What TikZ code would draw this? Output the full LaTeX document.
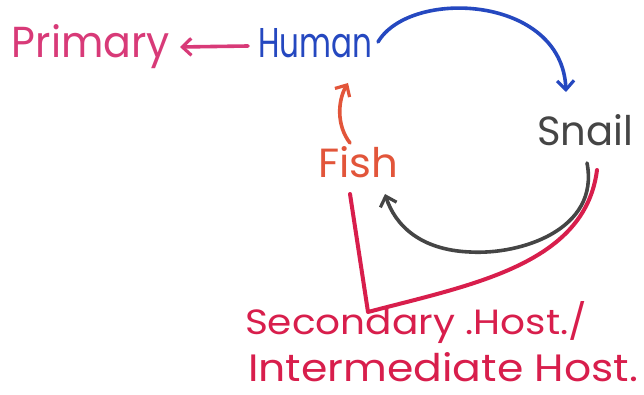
\documentclass[tikz,border=0pt]{standalone}
\usepackage{fontspec}
\setmainfont{Poppins}
\usetikzlibrary{arrows.meta}
\definecolor{cpink}{HTML}{D83A78}
\definecolor{cblue}{HTML}{2548C0}
\definecolor{cgray}{HTML}{454545}
\definecolor{corange}{HTML}{E2553A}
\definecolor{ccrim}{HTML}{D81E4C}
\newcommand{\hwtext}[3]{\resizebox{#1}{#2}{#3}}
\tikzset{
  lbl/.style={anchor=base west, inner sep=0pt, outer sep=0pt},
  pen/.style={line width=3.6pt, line cap=round, line join=round},
  tip/.style={-{Straight Barb[length=9pt,width=17pt,line width=3.2pt]}}
}
\begin{document}
\begin{tikzpicture}[x=1pt,y=-1pt]
\useasboundingbox[fill=white] (0,0) rectangle (644,395);
\node[lbl, text=cpink] (primary) at (12,58) {\hwtext{158pt}{33pt}{Primary}};
\node[lbl, text=cblue] (human) at (258,58) {\hwtext{114pt}{29pt}{Human}};
\node[lbl, text=cgray] (snail) at (537,146) {\hwtext{96pt}{31pt}{Snail}};
\node[lbl, text=corange] (fish) at (318,178) {\hwtext{80pt}{31pt}{Fish}};
\node[lbl, text=ccrim] (sec) at (245,334) {\hwtext{342pt}{33pt}{Secondary .Host./}};
\node[lbl, text=ccrim] (inter) at (248,381) {\hwtext{390pt}{29pt}{Intermediate Host.}};
% arrows
\coordinate (hL) at (248,46);
\coordinate (pR) at (180,47);
\draw[pen, cpink, tip] (hL) -- (pR);
\coordinate (hR) at (378,42);
\coordinate (sT) at (566,92);
\draw[pen, cblue, tip] (hR) .. controls (410,-12) and (562,-5) .. (sT);
\coordinate (fT) at (350,143);
\coordinate (hB) at (348,83);
\draw[pen, corange, tip] (fT) .. controls (336,125) and (338,100) .. (hB);
\coordinate (sB) at (587,163);
\coordinate (fR) at (385,194);
\draw[pen, cgray, tip] (sB) .. controls (600,230) and (520,255) .. (470,252) .. controls (420,250) and (395,225) .. (fR);
\coordinate (c1) at (350,194);
\coordinate (c2) at (368,312);
\coordinate (c3) at (597,170);
\draw[pen, ccrim, line width=4pt] (c1) -- (c2) .. controls (470,285) and (585,265) .. (c3);
\end{tikzpicture}
\end{document}
